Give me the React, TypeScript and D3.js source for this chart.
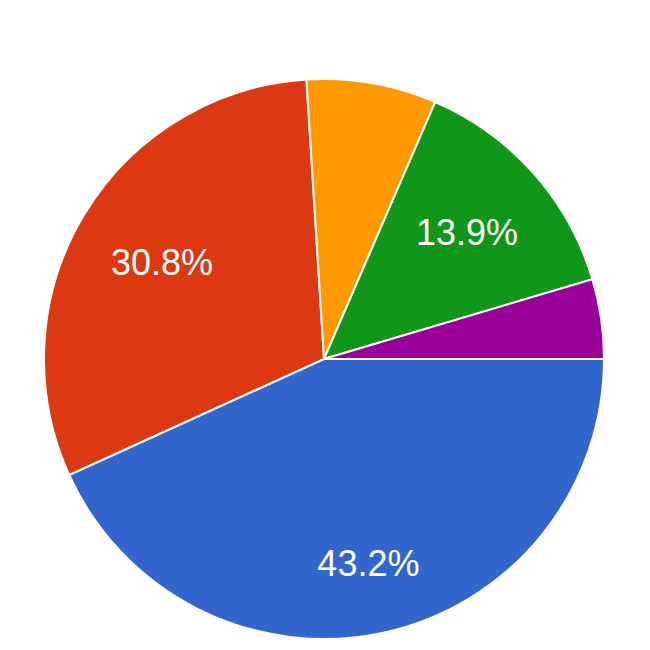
import React from "react";
import * as d3 from "d3";

const categories = ["A", "B", "C", "D", "E"];
const values = [43.2, 30.8, 7.5, 13.9, 4.6];
const colors = ["#3366cc", "#dc3912", "#ff9900", "#109618", "#990099"];

const W = 650;
const H = 650;
const CX = 324;
const CY = 359;
const R = 280;
const FONT = 36;
const LABEL_CORNER_R = R * 0.865;

function textWidth(t: string): number {
  try {
    const c = document.createElement("canvas").getContext("2d");
    if (c) {
      c.font = `${FONT}px Arial, "Liberation Sans", sans-serif`;
      return c.measureText(t).width;
    }
  } catch (e) {}
  return t.length * FONT * 0.57;
}

export default function App() {
  const pie = d3
    .pie<number>()
    .sort(null)
    .startAngle(Math.PI / 2)
    .endAngle(Math.PI / 2 + 2 * Math.PI)(values);
  const arc = d3.arc<d3.PieArcDatum<number>>().innerRadius(0).outerRadius(R);
  const total = d3.sum(values);

  return (
    <svg
      width={W}
      height={H}
      style={{ position: "absolute", left: 0, top: 0, background: "#fff" }}
    >
      <g transform={`translate(${CX},${CY})`}>
        {pie.map((p, i) => (
          <path
            key={categories[i]}
            d={arc(p) || ""}
            fill={colors[i]}
            stroke="#ffffff"
            strokeWidth={2}
          />
        ))}
        {pie.map((p, i) => {
          const pct = (p.value / total) * 100;
          if (pct < 10) return null;
          const label = `${pct.toFixed(1)}%`;
          const mid = (p.startAngle + p.endAngle) / 2;
          const ux = Math.sin(mid);
          const uy = -Math.cos(mid);
          const w = textWidth(label) / 2;
          const h = FONT / 2;
          const b = w * Math.abs(ux) + h * Math.abs(uy);
          const d =
            -b + Math.sqrt(b * b - (w * w + h * h - LABEL_CORNER_R * LABEL_CORNER_R));
          const x = d * ux;
          const y = d * uy;
          return (
            <text
              key={"l" + i}
              x={x}
              y={y + FONT * 0.358}
              textAnchor="middle"
              fill="#ffffff"
              fontSize={FONT}
              fontFamily='Arial, "Liberation Sans", sans-serif'
            >
              {label}
            </text>
          );
        })}
      </g>
    </svg>
  );
}
